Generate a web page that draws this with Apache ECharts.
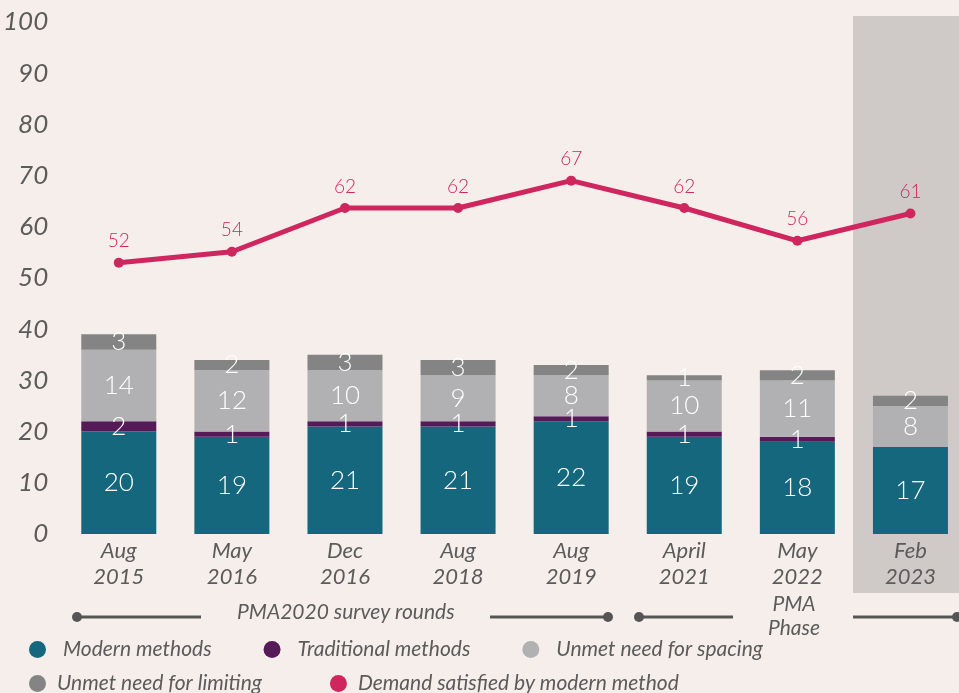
<!DOCTYPE html>
<html>
<head>
<meta charset="utf-8">
<script src="https://cdn.jsdelivr.net/npm/echarts@6/dist/echarts.min.js"></script>
<style>
  html, body { margin: 0; padding: 0; background: #f5eeeb; overflow: hidden; }
  /* a bit wider than the window: the last category band runs off the right edge */
  #chart { width: 968px; height: 693px; }
</style>
</head>
<body>
<div id="chart"></div>
<script>
// survey rounds
const rounds = ['Aug\n2015', 'May\n2016', 'Dec\n2016', 'Aug\n2018', 'Aug\n2019', 'April\n2021', 'May\n2022', 'Feb\n2023'];
// stacked bars (% of women)
const modernMethods = [20, 19, 21, 21, 22, 19, 18, 17];
const traditionalMethods = [2, 1, 1, 1, 1, 1, 1, 0];
const unmetSpacing = [14, 12, 10, 9, 8, 10, 11, 8];
const unmetLimiting = [3, 2, 3, 3, 2, 1, 2, 2];
// line
const demandSatisfied = [52, 54, 62, 62, 67, 62, 56, 61];
const yTicks = [0, 10, 20, 30, 40, 50, 60, 70, 80, 90, 100];

const textGrey = '#5b5b5b';
const font = 'Lato';

const chart = echarts.init(document.getElementById('chart'));

function barSeries(name, data, color) {
  return {
    name: name,
    type: 'bar',
    stack: 'total',
    data: data,
    barWidth: 75,
    itemStyle: { color: color },
    label: {
      show: true,
      position: 'inside',
      color: '#fff',
      fontFamily: font,
      fontWeight: 300,
      fontSize: 26,
      formatter: (p) => (p.value ? p.value : '')
    }
  };
}

// small dot + line pieces of the survey-round annotation
function seg(x1, x2, dotX) {
  return [
    { type: 'line', shape: { x1: x1, y1: 617, x2: x2, y2: 617 }, style: { stroke: '#555', lineWidth: 3 } },
    { type: 'circle', shape: { cx: dotX, cy: 617, r: 5 }, style: { fill: '#555' } }
  ];
}

chart.setOption({
  backgroundColor: '#f5eeeb',
  animation: false,
  grid: { left: 62, top: 22, width: 905, height: 512 },
  legend: [
    {
      data: ['Modern methods', 'Traditional methods', 'Unmet need for spacing'],
      left: 29, top: 639, padding: 0,
      icon: 'circle', itemWidth: 17, itemHeight: 17, itemGap: 52,
      textStyle: { fontFamily: font, fontStyle: 'italic', fontSize: 21, color: textGrey, padding: [0, 0, 0, 12] }
    },
    {
      data: ['Unmet need for limiting', 'Demand satisfied by modern method'],
      left: 29, top: 673, padding: 0,
      icon: 'circle', itemWidth: 17, itemHeight: 17, itemGap: 68,
      textStyle: { fontFamily: font, fontStyle: 'italic', fontSize: 21, color: textGrey, padding: [0, 0, 0, 6] }
    }
  ],
  xAxis: {
    type: 'category',
    data: rounds,
    axisLine: { show: false },
    axisTick: { show: false },
    axisLabel: {
      interval: 0,
      margin: 4,
      fontFamily: font,
      fontStyle: 'italic',
      fontSize: 22,
      lineHeight: 26,
      color: textGrey
    }
  },
  yAxis: [
    {
      type: 'value',
      min: yTicks[0],
      max: yTicks[yTicks.length - 1],
      interval: 10,
      splitLine: { show: false },
      axisLabel: {
        margin: 14,
        fontFamily: font,
        fontStyle: 'italic',
        fontSize: 26,
        color: textGrey
      }
    },
    {
      // hidden scale for the demand line
      type: 'value',
      min: 2.4,
      max: 96,
      show: false
    }
  ],
  graphic: [
    // Feb 2023 highlight band
    { type: 'rect', z: -10, shape: { x: 853, y: 16, width: 120, height: 577 }, style: { fill: '#cfcac7' } },
    ...seg(77, 201, 77),
    ...seg(490, 608, 608),
    ...seg(639, 733, 639),
    ...seg(853, 957, 957),
    {
      type: 'text', left: 237, top: 602,
      style: { text: 'PMA2020 survey rounds', font: 'italic 21px Lato', fill: textGrey }
    },
    {
      type: 'text', x: 794, y: 592,
      style: { text: 'PMA\nPhase', font: 'italic 21px Lato', fill: textGrey, align: 'center', lineHeight: 24 }
    }
  ],
  series: [
    barSeries('Modern methods', modernMethods, '#14677c'),
    barSeries('Traditional methods', traditionalMethods, '#561a59'),
    barSeries('Unmet need for spacing', unmetSpacing, '#b1b1b4'),
    barSeries('Unmet need for limiting', unmetLimiting, '#838483'),
    {
      name: 'Demand satisfied by modern method',
      type: 'line',
      yAxisIndex: 1,
      data: demandSatisfied,
      symbol: 'circle',
      symbolSize: 10,
      lineStyle: { color: '#cf2660', width: 5 },
      itemStyle: { color: '#cf2660' },
      label: {
        show: true,
        position: 'top',
        distance: 7,
        color: '#cf2660',
        fontFamily: font,
        fontWeight: 300,
        fontSize: 19
      }
    }
  ]
});
</script>
</body>
</html>
